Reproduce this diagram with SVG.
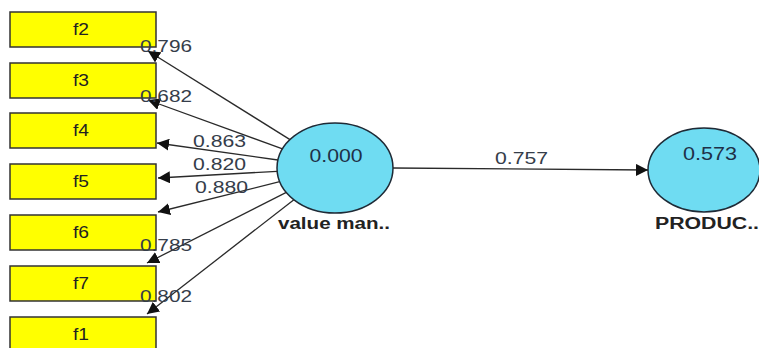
<svg xmlns="http://www.w3.org/2000/svg" width="759" height="348" viewBox="0 0 759 348">
<style>
.box{fill:#ffff00;stroke:#333;stroke-width:1.5}
.bt{font-family:"Liberation Sans",Arial,sans-serif;font-size:16px;fill:#222;text-anchor:middle}
.lv{fill:#6fdcf2;stroke:#1e2a36;stroke-width:1.5}
.vt{font-family:"Liberation Sans",Arial,sans-serif;font-size:18px;fill:#1e3048;text-anchor:middle}
.nm{font-family:"Liberation Sans",Arial,sans-serif;font-size:16px;fill:#222;text-anchor:middle;font-weight:bold}
.ln{stroke:#2a2a2a;stroke-width:1.3;fill:none}
.lb{font-family:"Liberation Sans",Arial,sans-serif;font-size:17px;fill:#353d4a}
</style>
<defs>
<marker id="ah" viewBox="0 0 12 12" refX="12" refY="6" markerWidth="12" markerHeight="12" markerUnits="userSpaceOnUse" orient="auto">
<path d="M0,0 L12,6 L0,12 z" fill="#111"/>
</marker>
</defs>
<g id="f2"><rect class="box" x="10" y="12" width="146" height="35"/><text class="bt" x="81" y="35" textLength="16" lengthAdjust="spacingAndGlyphs">f2</text></g>
<g id="f3"><rect class="box" x="10" y="63" width="146" height="35"/><text class="bt" x="81" y="86" textLength="16" lengthAdjust="spacingAndGlyphs">f3</text></g>
<g id="f4"><rect class="box" x="10" y="113" width="146" height="35"/><text class="bt" x="81" y="136" textLength="16" lengthAdjust="spacingAndGlyphs">f4</text></g>
<g id="f5"><rect class="box" x="10" y="164" width="146" height="35"/><text class="bt" x="81" y="187" textLength="16" lengthAdjust="spacingAndGlyphs">f5</text></g>
<g id="f6"><rect class="box" x="10" y="215" width="146" height="35"/><text class="bt" x="81" y="238" textLength="16" lengthAdjust="spacingAndGlyphs">f6</text></g>
<g id="f7"><rect class="box" x="10" y="266" width="146" height="35"/><text class="bt" x="81" y="289" textLength="16" lengthAdjust="spacingAndGlyphs">f7</text></g>
<g id="f1"><rect class="box" x="10" y="317" width="146" height="35"/><text class="bt" x="81" y="340" textLength="16" lengthAdjust="spacingAndGlyphs">f1</text></g>
<g id="value_man"><ellipse class="lv" cx="335" cy="168" rx="58" ry="45"/><text class="vt" x="336" y="162" textLength="53" lengthAdjust="spacingAndGlyphs">0.000</text><text class="nm" x="334" y="229" textLength="112" lengthAdjust="spacingAndGlyphs">value man..</text></g>
<g id="PRODUC"><ellipse class="lv" cx="704" cy="170" rx="56" ry="42"/><text class="vt" x="710" y="160" textLength="54" lengthAdjust="spacingAndGlyphs">0.573</text><text class="nm" x="707" y="229" textLength="104" lengthAdjust="spacingAndGlyphs">PRODUC..</text></g>
<g id="connectors">
<line class="ln" x1="290" y1="139.6" x2="148" y2="51" marker-end="url(#ah)"/>
<line class="ln" x1="282.5" y1="148.9" x2="148" y2="100" marker-end="url(#ah)"/>
<line class="ln" x1="277.9" y1="160" x2="157" y2="143" marker-end="url(#ah)"/>
<line class="ln" x1="277.1" y1="171.3" x2="158" y2="178" marker-end="url(#ah)"/>
<line class="ln" x1="279.7" y1="181.7" x2="158" y2="212" marker-end="url(#ah)"/>
<line class="ln" x1="286.3" y1="192.4" x2="147" y2="263" marker-end="url(#ah)"/>
<line class="ln" x1="293.9" y1="199.7" x2="147" y2="314" marker-end="url(#ah)"/>
<line class="ln" x1="393" y1="168" x2="648" y2="170" marker-end="url(#ah)"/>
<text class="lb" x="140" y="52" textLength="52" lengthAdjust="spacingAndGlyphs">0.796</text>
<text class="lb" x="140" y="102" textLength="52" lengthAdjust="spacingAndGlyphs">0.682</text>
<text class="lb" x="193" y="147" textLength="53" lengthAdjust="spacingAndGlyphs">0.863</text>
<text class="lb" x="193" y="170" textLength="53" lengthAdjust="spacingAndGlyphs">0.820</text>
<text class="lb" x="195" y="193" textLength="53" lengthAdjust="spacingAndGlyphs">0.880</text>
<text class="lb" x="140" y="251" textLength="52" lengthAdjust="spacingAndGlyphs">0.785</text>
<text class="lb" x="140" y="302" textLength="52" lengthAdjust="spacingAndGlyphs">0.802</text>
<text class="lb" x="495" y="164" textLength="53" lengthAdjust="spacingAndGlyphs">0.757</text>
</g>
</svg>
